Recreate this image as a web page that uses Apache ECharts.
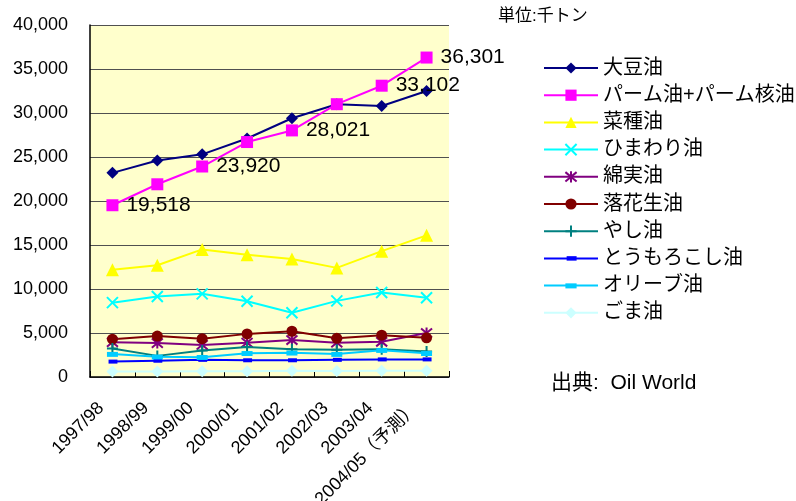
<!DOCTYPE html>
<html><head><meta charset="utf-8">
<script src="https://cdn.jsdelivr.net/npm/echarts@6/dist/echarts.min.js"></script>
<style>html,body{margin:0;padding:0;background:#fff}#c{width:796px;height:501px}</style>
</head><body><div id="c"></div>
<script>
const categories = ['1997/98','1998/99','1999/00','2000/01','2001/02','2002/03','2003/04','2004/05（予測）'];
const yTicks = [0,5000,10000,15000,20000,25000,30000,35000,40000];
const soybean   = [23200,24600,25300,27100,29400,31000,30800,32500];
const palm      = [19518,21900,23920,26700,28021,31000,33102,36301];
const rapeseed  = [12200,12700,14500,13900,13400,12400,14300,16100];
const sunflower = [8450,9150,9450,8600,7300,8650,9600,9000];
const cotton    = [3950,3850,3650,3900,4200,3900,4000,5000];
const groundnut = [4300,4650,4350,4900,5200,4400,4750,4450];
const coconut   = [3250,2400,3000,3400,3150,3100,3150,2900];
const corn      = [1750,1850,1950,1900,1900,1950,2000,2000];
const olive     = [2600,2300,2250,2700,2750,2600,3050,2700];
const sesame    = [620,620,650,640,720,680,700,700];
const labelIdx  = [0,2,4,6,7];

const fmt = v => String(v).replace(/\B(?=(\d{3})+(?!\d))/g, ',');
const font = '"Liberation Sans", Arial, "Noto Sans CJK JP", sans-serif';

function mk(name, data, color, symbol, size, stroke) {
  return {
    name, type:'line', data, symbol, symbolSize:size, showAllSymbol:true,
    lineStyle:{color, width:2},
    itemStyle:{color, borderColor:color, borderWidth: stroke ? 2 : 0},
    emphasis:{disabled:true}, animation:false, z:2
  };
}
const X = 'path://M0,0L10,10M10,0L0,10';
const AST = 'path://M0,0L10,10M10,0L0,10M5,-1L5,11';
const PLUS = 'path://M5,0L5,10M0,5L10,5';
const DASH_S = 'path://M0,0M0,10M1,3L9,3L9,7L1,7Z';
const DASH_L = 'path://M0,0M0,10M0,3L10,3L10,7.5L0,7.5Z';

const series = [
  mk('大豆油', soybean, '#000080', 'diamond', 12, false),
  mk('パーム油+パーム核油', palm, '#FF00FF', 'rect', 12, false),
  mk('菜種油', rapeseed, '#FFFF00', 'triangle', 13, false),
  mk('ひまわり油', sunflower, '#00FFFF', X, 11, true),
  mk('綿実油', cotton, '#800080', AST, 11, true),
  mk('落花生油', groundnut, '#800000', 'circle', 11, false),
  mk('やし油', coconut, '#008080', PLUS, 11, true),
  mk('とうもろこし油', corn, '#0000FF', DASH_S, 10, false),
  mk('オリーブ油', olive, '#00CCFF', DASH_L, 11, false),
  mk('ごま油', sesame, '#CCFFFF', 'diamond', 12, false)
];
series[1].label = {
  show:true, position:'right', distance:8, color:'#000', fontSize:21, fontFamily:font,
  formatter: p => labelIdx.includes(p.dataIndex) ? fmt(p.value) : ''
};
series[1].z = 3;

const chart = echarts.init(document.getElementById('c'), null, {renderer:'canvas'});
chart.setOption({
  animation:false,
  backgroundColor:'#fff',
  textStyle:{fontFamily:font},
  grid:{left:90, right:347, top:25, bottom:124, show:true, backgroundColor:'#FFFFCC', borderWidth:0,
        containLabel:false, outerBoundsMode:'none'},
  xAxis:{
    type:'category', data:categories, boundaryGap:true,
    axisLine:{lineStyle:{color:'#000', width:1.5}},
    axisTick:{show:true, inside:true, length:6, lineStyle:{color:'#000'}},
    axisLabel:{rotate:45, fontSize:18, color:'#000', margin:17, interval:0, fontFamily:font, padding:[0,16,0,0]}
  },
  yAxis:{
    type:'value', min:yTicks[0], max:yTicks[yTicks.length-1], interval:5000,
    axisLine:{show:true, lineStyle:{color:'#000', width:1.5}},
    axisTick:{show:false},
    axisLabel:{fontSize:18, color:'#000', margin:22, formatter:v=>fmt(v), fontFamily:font},
    splitLine:{lineStyle:{color:'#505050', width:1}}
  },
  legend:{
    orient:'vertical', left:543, top:58, padding:0, itemWidth:54, itemHeight:14, itemGap:7.2,
    textStyle:{fontSize:20, lineHeight:20, color:'#000', fontFamily:font},
    data: series.map(s=>s.name)
  },
  graphic:[
    {type:'text', left:498, top:8, style:{text:'単位:千トン', font:'17px ' + font, fill:'#000'}},
    {type:'text', left:551, top:373, style:{text:'出典:  Oil World', font:'21px ' + font, fill:'#000'}}
  ],
  series
});
</script></body></html>
